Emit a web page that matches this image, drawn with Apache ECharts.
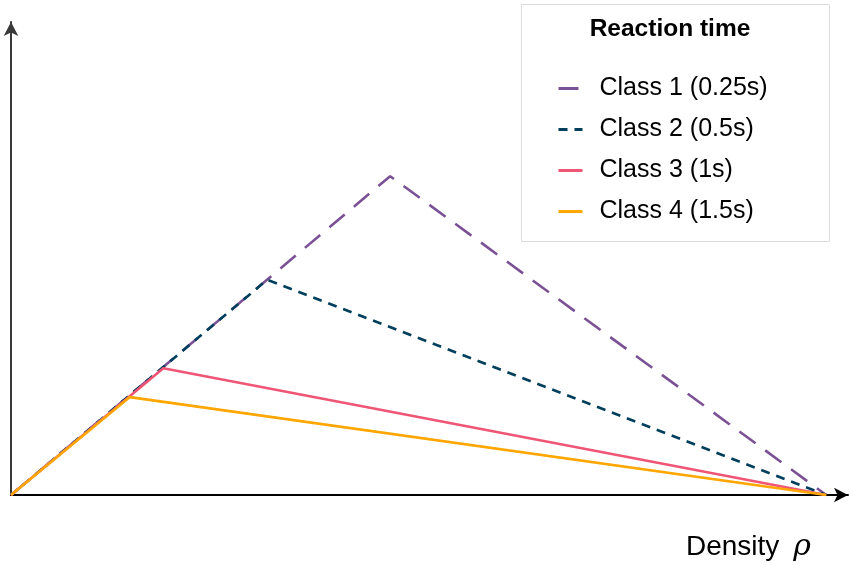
<!DOCTYPE html>
<html>
<head>
<meta charset="utf-8">
<script src="https://cdn.jsdelivr.net/npm/echarts@6/dist/echarts.min.js"></script>
<style>html,body{margin:0;padding:0;background:#fff}#c{width:849px;height:565px}</style>
</head>
<body>
<div id="c"></div>
<script>
const seriesNames = ['Class 1 (0.25s)', 'Class 2 (0.5s)', 'Class 3 (1s)', 'Class 4 (1.5s)'];
const class1 = [[0, 0], [45.3, 67.4], [97.4, 0]];
const class2 = [[0, 0], [30.6, 45.5], [97.4, 0]];
const class3 = [[0, 0], [18.2, 26.8], [97.4, 0]];
const class4 = [[0, 0], [14.2, 20.7], [97.4, 0]];
const legendTitle = 'Reaction time';
const xAxisName = 'Density';

const colors = ['#7a5195', '#003f5c', '#ef5675', '#ffa600'];
const dashes = [[20, 12], [9, 7], 'solid', 'solid'];
const datasets = [class1, class2, class3, class4];

const chart = echarts.init(document.getElementById('c'), null, {renderer: 'canvas'});
chart.setOption({
  animation: false,
  backgroundColor: '#fff',
  grid: {left: 11, top: 22, width: 837, height: 473, containLabel: false},
  xAxis: {
    type: 'value', min: 0, max: 100,
    axisLine: {show: true, lineStyle: {color: '#000', width: 2}, symbol: ['none', 'arrow'], symbolSize: [11, 14]},
    axisTick: {show: false}, axisLabel: {show: false}, splitLine: {show: false}
  },
  yAxis: {
    type: 'value', min: 0, max: 100,
    axisLine: {show: true, lineStyle: {color: '#3a3a3a', width: 2}, symbol: ['none', 'arrow'], symbolSize: [11, 14]},
    axisTick: {show: false}, axisLabel: {show: false}, splitLine: {show: false}
  },
  legend: {
    orient: 'vertical', left: 552, top: 71, itemGap: 16, itemWidth: 24, itemHeight: 14,
    itemStyle: {opacity: 0},
    lineStyle: {width: 3},
    textStyle: {fontFamily: 'Liberation Sans, Arial', fontSize: 25, color: '#000', padding: [0, 0, 0, 12]},
    data: seriesNames
  },
  graphic: [
    {type: 'rect', shape: {x: 521.5, y: 4.5, width: 308, height: 237}, style: {fill: '#fff', stroke: '#dcdcdc', lineWidth: 1}, z: -1},
    {type: 'text', x: 670, y: 29, style: {text: legendTitle, font: 'bold 24.5px "Liberation Sans", Arial', fill: '#000', align: 'center', verticalAlign: 'middle'}},
    {type: 'text', x: 686, y: 547, style: {
      text: '{a|' + xAxisName + '}{b|ρ}',
      rich: {a: {font: '28px "Liberation Sans", Arial', fill: '#000'}, b: {font: 'italic 30px "DejaVu Serif", serif', fill: '#000', padding: [0, 0, 0, 14]}},
      verticalAlign: 'middle'}}
  ],
  series: datasets.map((d, i) => ({
    name: seriesNames[i], type: 'line', data: d, symbol: 'none',
    lineStyle: {color: colors[i], width: 2.6, type: dashes[i]},
    itemStyle: {color: colors[i]}
  }))
});
</script>
</body>
</html>
